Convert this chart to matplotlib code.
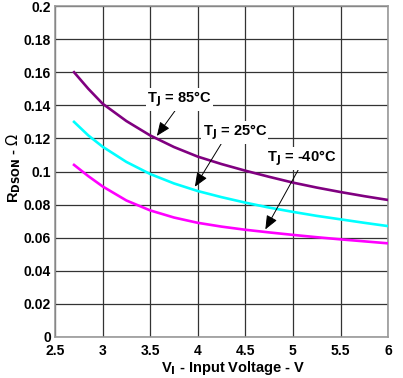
import matplotlib.pyplot as plt

plt.rcParams['font.family'] = ['Liberation Sans', 'DejaVu Sans']

# input voltage (V)
vin = [2.7, 2.85, 3.0, 3.25, 3.5, 3.75, 4.0, 4.25, 4.5, 4.75, 5.0, 5.25, 5.5, 5.75, 6.0]
# on resistance (ohm) per junction temperature
r_85 = [0.160, 0.150, 0.141, 0.1305, 0.1218, 0.1148, 0.109, 0.1045, 0.1005, 0.0968, 0.0933, 0.0903, 0.0876, 0.0851, 0.0828]
r_25 = [0.130, 0.1218, 0.115, 0.1058, 0.0985, 0.0928, 0.0882, 0.0845, 0.0812, 0.0782, 0.0756, 0.0732, 0.0711, 0.069, 0.067]
r_m40 = [0.104, 0.0972, 0.091, 0.0825, 0.0765, 0.0722, 0.069, 0.0667, 0.0648, 0.0632, 0.0617, 0.0603, 0.059, 0.0578, 0.0566]

x_ticks = [2.5, 3, 3.5, 4, 4.5, 5, 5.5, 6]
x_labels = ['2.5', '3', '3.5', '4', '4.5', '5', '5.5', '6']
y_ticks = [0, 0.02, 0.04, 0.06, 0.08, 0.1, 0.12, 0.14, 0.16, 0.18, 0.2]
y_labels = ['0', '0.02', '0.04', '0.06', '0.08', '0.1', '0.12', '0.14', '0.16', '0.18', '0.2']

fig = plt.figure(figsize=(4.03, 3.78), dpi=100)
ax = fig.add_axes([0.1365, 0.1085, 0.8265, 0.8755])

ax.plot(vin, r_85, color='#800080', lw=1.9, zorder=3)
ax.plot(vin, r_25, color='#00ffff', lw=1.9, zorder=3)
ax.plot(vin, r_m40, color='#ff00ff', lw=1.9, zorder=3)

ax.set_xlim(2.5, 6)
ax.set_ylim(0, 0.2)
ax.set_xticks(x_ticks)
ax.set_xticklabels(x_labels, fontsize=10, fontweight='bold')
ax.set_yticks(y_ticks)
ax.set_yticklabels(y_labels, fontsize=10, fontweight='bold')
ax.tick_params(axis='x', length=0, pad=5)
ax.tick_params(axis='y', length=0, pad=3)
ax.grid(True, color='#333333', lw=0.9)
ax.set_axisbelow(True)
for s in ax.spines.values():
    s.set_color('#999999')
    s.set_linewidth(1.2)

ax.set_xlabel(r'V$_\mathbf{I}$ - Input Voltage - V', fontsize=10.5, fontweight='bold')
ax.xaxis.set_label_coords(0.535, -0.066)
ax.set_ylabel(r'R$_\mathbf{DSON}$ - $\Omega$', fontsize=10.5, fontweight='bold')
ax.yaxis.set_label_coords(-0.097, 0.51)

box = dict(facecolor='white', edgecolor='none', pad=1)
arrow = dict(arrowstyle='-|>,head_length=0.6,head_width=0.25', color='black', lw=0.7,
             mutation_scale=14, shrinkA=0, shrinkB=0)

ax.annotate('', xy=(3.57, 0.1215), xytext=(3.79, 0.139), arrowprops=arrow, zorder=4)
ax.text(3.47, 0.1435, r'T$_\mathbf{J}$ = 85°C', fontsize=10.5, fontweight='bold',
        ha='left', va='center', bbox=box, zorder=5)

ax.annotate('', xy=(3.97, 0.0908), xytext=(4.26, 0.118), arrowprops=arrow, zorder=4)
ax.text(4.05, 0.1235, r'T$_\mathbf{J}$ = 25°C', fontsize=10.5, fontweight='bold',
        ha='left', va='center', bbox=box, zorder=5)

ax.annotate('', xy=(4.71, 0.065), xytext=(5.07, 0.1025), arrowprops=arrow, zorder=4)
ax.text(4.73, 0.108, r'T$_\mathbf{J}$ = -40°C', fontsize=10.5, fontweight='bold',
        ha='left', va='center', bbox=box, zorder=5)

fig.savefig('out.png', dpi=100)
